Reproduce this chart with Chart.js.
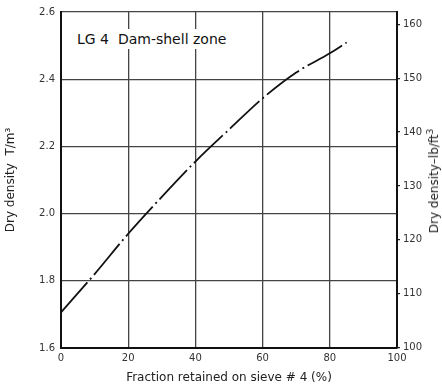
<!DOCTYPE html>
<html>
<head>
<meta charset="utf-8">
<script src="https://cdn.jsdelivr.net/npm/chart.js@4"></script>
<style>
  html, body { margin: 0; padding: 0; background: #fff; }
  #wrap { position: relative; width: 442px; height: 391px; }
  #plotTitle {
    position: absolute; left: 72px; top: 29px; padding: 0 5px;
    background: #fff; color: #111;
    font: 14px "DejaVu Sans", sans-serif; line-height: 20px;
  }
  #rightTitle {
    position: absolute; left: 433px; top: 181px;
    transform: translate(-50%, -50%) rotate(-90deg);
    white-space: nowrap; color: #222;
    font: 12px "DejaVu Sans", sans-serif;
  }
</style>
</head>
<body>
<div id="wrap">
  <canvas id="densityChart" width="442" height="391"></canvas>
  <div id="plotTitle">LG 4&nbsp; Dam-shell zone</div>
  <div id="rightTitle">Dry density–lb/ft<sup style="font-size:9px">3</sup></div>
</div>
<script>
const fraction = [0, 10, 20, 30, 40, 50, 60, 70, 80, 85];
const density = [1.706, 1.82, 1.94, 2.05, 2.155, 2.25, 2.343, 2.42, 2.477, 2.509];
const xTicks = [0, 20, 40, 60, 80, 100];
const yTicks = [1.6, 1.8, 2.0, 2.2, 2.4, 2.6];
const lbTicks = [100, 110, 120, 130, 140, 150, 160];
const TON_TO_LB = 62.428;

const densityChart = document.querySelector('#densityChart');
const font = { family: 'DejaVu Sans', size: 10 };

new Chart(densityChart, {
    type: 'line',
    data: {
        datasets: [{
            data: fraction.map(function (x, i) {
                return { x: x, y: density[i] };
            }),
            borderColor: '#111',
            borderWidth: 1.8,
            borderDash: [40, 4, 2, 4],
            pointRadius: 0,
            cubicInterpolationMode: 'monotone',
            fill: false
        }]
    },
    options: {
        responsive: false,
        animation: false,
        devicePixelRatio: 1,
        layout: { padding: { top: 9, left: 0, right: 0, bottom: 0 } },
        plugins: { legend: { display: false }, tooltip: { enabled: false } },
        scales: {
            x: {
                type: 'linear', min: 0, max: 100,
                afterBuildTicks: function (s) { s.ticks = xTicks.map(function (v) { return { value: v }; }); },
                afterFit: function (s) { s.height = 43; },
                grid: { color: '#444', lineWidth: 1.3, tickLength: 0 },
                border: { color: '#111', width: 2 },
                ticks: { color: '#333', font: font, padding: 4, maxRotation: 0 },
                title: {
                    display: true, text: 'Fraction retained on sieve # 4 (%)',
                    color: '#222', font: { family: 'DejaVu Sans', size: 12 },
                    padding: { top: 0, bottom: 6 }
                }
            },
            y: {
                type: 'linear', position: 'left', min: 1.6, max: 2.6,
                afterBuildTicks: function (s) { s.ticks = yTicks.map(function (v) { return { value: v }; }); },
                afterFit: function (s) { s.width = 61; },
                grid: { color: '#444', lineWidth: 1.3, tickLength: 0 },
                border: { color: '#111', width: 2 },
                ticks: {
                    color: '#333', font: font, padding: 6,
                    callback: function (v) { return v.toFixed(1); }
                },
                title: {
                    display: true, text: 'Dry density  T/m³',
                    color: '#222', font: { family: 'DejaVu Sans', size: 12 },
                    padding: { top: 4, bottom: 0 }
                }
            },
            y2: {
                type: 'linear', position: 'right',
                min: 1.6 * TON_TO_LB, max: 2.6 * TON_TO_LB,
                afterBuildTicks: function (s) { s.ticks = lbTicks.map(function (v) { return { value: v }; }); },
                afterFit: function (s) { s.width = 45; },
                grid: { drawOnChartArea: false, color: '#222', lineWidth: 1.3, tickLength: 3 },
                border: { color: '#111', width: 2 },
                ticks: { color: '#333', font: font, padding: 3 }
            }
        }
    }
});
</script>
</body>
</html>
